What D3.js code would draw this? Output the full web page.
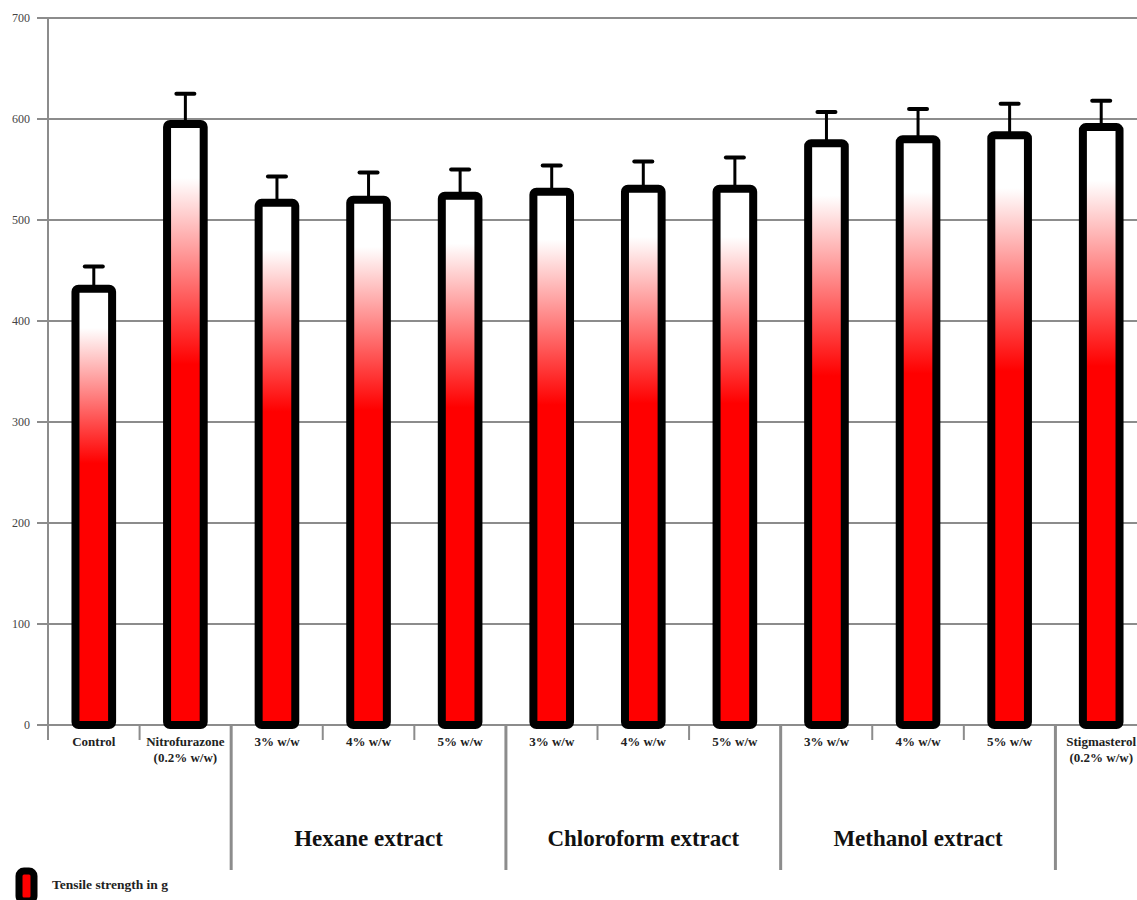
<!DOCTYPE html>
<html>
<head>
<meta charset="utf-8">
<script src="https://cdn.jsdelivr.net/npm/d3@7"></script>
<style>
  body { margin: 0; background: #fff; }
  text { font-family: "Liberation Serif", "DejaVu Serif", serif; }
</style>
</head>
<body>
<svg width="1137" height="900"></svg>
<script>
// Treatments (x axis slots)
const categories = ['Control', 'Nitrofurazone\n(0.2% w/w)', 'Hex 3', 'Hex 4', 'Hex 5',
  'Chl 3', 'Chl 4', 'Chl 5', 'Met 3', 'Met 4', 'Met 5', 'Stigmasterol\n(0.2% w/w)'];
const labels = ['Control', 'Nitrofurazone\n(0.2% w/w)', '3% w/w', '4% w/w', '5% w/w',
  '3% w/w', '4% w/w', '5% w/w', '3% w/w', '4% w/w', '5% w/w', 'Stigmasterol\n(0.2% w/w)'];
// Tensile strength in g and upper end of error bar
const values = [432, 595, 517, 520, 524, 528, 531, 531, 576, 580, 584, 592];
const errTop = [454, 625, 543, 547, 550, 554, 558, 562, 607, 610, 615, 618];
const yTicks = [0, 100, 200, 300, 400, 500, 600, 700];
// Extract groups: name, first slot, last slot
const groups = [
  { name: 'Hexane extract', from: 2, to: 4 },
  { name: 'Chloroform extract', from: 5, to: 7 },
  { name: 'Methanol extract', from: 8, to: 10 }
];
const legendLabel = 'Tensile strength in g';

const svg = d3.select('svg');
const plotLeft = 48, plotRight = 1147, plotTop = 18, zeroY = 725;

const x = d3.scaleBand().domain(categories).range([plotLeft, plotRight]).paddingInner(0.6).paddingOuter(0.3);
const y = d3.scaleLinear().domain([0, 700]).range([zeroY, plotTop]);
const step = x.step();
// slot boundaries (ticks sit between categories)
const slotStart = i => plotLeft + i * (plotRight - plotLeft) / categories.length;

// Gradient: white at top, red lower down
const defs = svg.append('defs');
const grad = defs.append('linearGradient').attr('id', 'barGrad')
  .attr('x1', 0).attr('y1', 0).attr('x2', 0).attr('y2', 1);
grad.append('stop').attr('offset', '0%').attr('stop-color', '#fff');
grad.append('stop').attr('offset', '9%').attr('stop-color', '#fff');
grad.append('stop').attr('offset', '40%').attr('stop-color', '#ff0000');
grad.append('stop').attr('offset', '100%').attr('stop-color', '#ff0000');

// Horizontal grid lines
svg.append('g').selectAll('line').data(yTicks).join('line')
  .attr('x1', 37).attr('x2', 1137)
  .attr('y1', d => y(d)).attr('y2', d => y(d))
  .style('stroke', '#8c8c8c').style('stroke-width', 2);

// Y axis line
svg.append('line').attr('x1', plotLeft).attr('x2', plotLeft).attr('y1', plotTop).attr('y2', 740)
  .style('stroke', '#8c8c8c').style('stroke-width', 2);

// Y tick labels
svg.append('g').selectAll('text').data(yTicks).join('text')
  .attr('x', 30).attr('y', d => y(d) + 4)
  .attr('text-anchor', 'end')
  .style('font-size', '12px').style('fill', '#444')
  .text(d => d);

// X ticks: short between slots, long at group borders
const longTicks = new Set([2, 5, 8, 11]);
svg.append('g').selectAll('line').data(d3.range(categories.length)).join('line')
  .attr('x1', i => slotStart(i)).attr('x2', i => slotStart(i))
  .attr('y1', zeroY).attr('y2', i => longTicks.has(i) ? 870 : 740)
  .style('stroke', '#8c8c8c').style('stroke-width', i => longTicks.has(i) ? 3 : 2);

// Error bars
const eb = svg.append('g');
categories.forEach((c, i) => {
  const cx = x(c) + x.bandwidth() / 2;
  eb.append('line').attr('x1', cx).attr('x2', cx)
    .attr('y1', y(values[i])).attr('y2', y(errTop[i]))
    .style('stroke', '#000').style('stroke-width', 3);
  eb.append('line').attr('x1', cx - 9).attr('x2', cx + 9)
    .attr('y1', y(errTop[i])).attr('y2', y(errTop[i]))
    .style('stroke', '#000').style('stroke-width', 4).style('stroke-linecap', 'round');
});

// Bars
svg.append('g').selectAll('rect').data(categories).join('rect')
  .attr('x', d => x(d))
  .attr('y', (d, i) => y(values[i]))
  .attr('width', x.bandwidth())
  .attr('height', (d, i) => zeroY - y(values[i]))
  .attr('rx', 3)
  .style('fill', 'url(#barGrad)')
  .style('stroke', '#000').style('stroke-width', 8);

// Category labels
const lab = svg.append('g');
labels.forEach((l, i) => {
  const cx = slotStart(i) + step / 2;
  l.split('\n').forEach((line, k) => {
    lab.append('text')
      .attr('x', cx).attr('y', 746 + k * 16)
      .attr('text-anchor', 'middle')
      .style('font-size', '13px').style('font-weight', 'bold').style('fill', '#222')
      .text(line);
  });
});

// Group labels
svg.append('g').selectAll('text').data(groups).join('text')
  .attr('x', g => (slotStart(g.from) + slotStart(g.to + 1)) / 2)
  .attr('y', 846)
  .attr('text-anchor', 'middle')
  .style('font-size', '23px').style('font-weight', 'bold').style('fill', '#111')
  .text(g => g.name);

// Legend
svg.append('rect').attr('x', 19).attr('y', 871).attr('width', 15).attr('height', 30)
  .attr('rx', 5)
  .style('fill', '#ff0000').style('stroke', '#000').style('stroke-width', 7);
svg.append('text').attr('x', 52).attr('y', 889)
  .style('font-size', '13.5px').style('font-weight', 'bold').style('fill', '#222')
  .text(legendLabel);
</script>
</body>
</html>
